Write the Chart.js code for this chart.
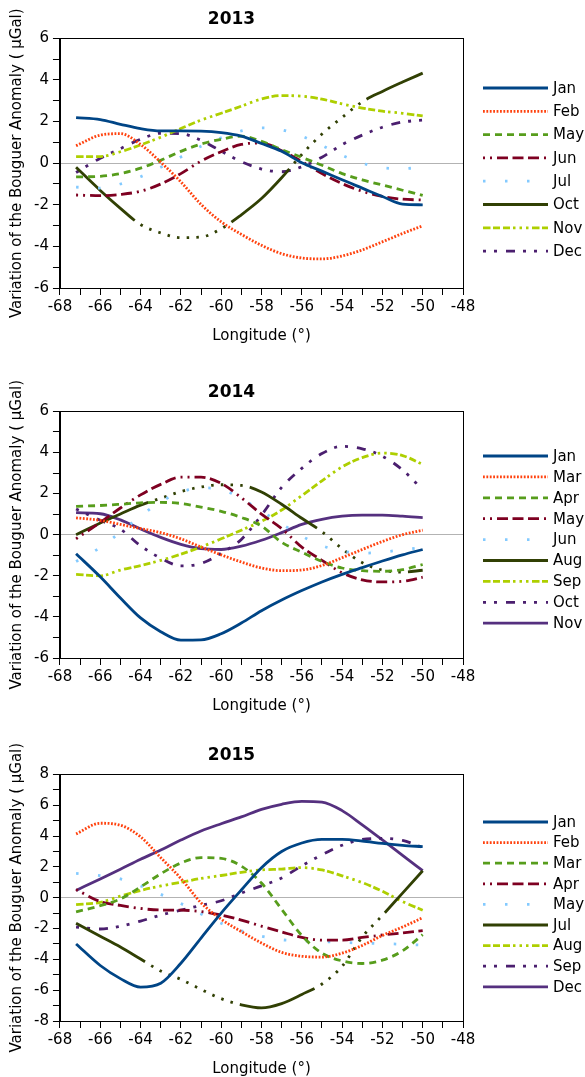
<!DOCTYPE html>
<html>
<head>
<meta charset="utf-8">
<script src="https://cdn.jsdelivr.net/npm/chart.js@4.4.0/dist/chart.umd.min.js"></script>
<style>
  html, body { margin: 0; padding: 0; background: #fff; }
  body { width: 585px; height: 1077px; position: relative; overflow: hidden; }
  .box { position: absolute; left: 0; width: 585px; }
  #box1 { top: 0; height: 345px; }
  #box2 { top: 373px; height: 342px; }
  #box3 { top: 736px; height: 342px; }
</style>
</head>
<body>
<div class="box" id="box1"><canvas id="chart1"></canvas></div>
<div class="box" id="box2"><canvas id="chart2"></canvas></div>
<div class="box" id="box3"><canvas id="chart3"></canvas></div>
<script>
const lon = [-67.2, -66, -65, -64, -63, -62, -61, -60, -59, -58, -57, -56, -55, -54, -53, -52, -51, -50];
const xBounds = [-68, -48];

// 2013
const months2013 = ['Jan', 'Feb', 'May', 'Jun', 'Jul', 'Oct', 'Nov', 'Dec'];
const yBounds2013 = [-6, 6];
const jan13 = [2.19, 2.1, 1.87, 1.66, 1.55, 1.55, 1.54, 1.47, 1.3, 0.95, 0.57, 0.02, -0.38, -0.8, -1.2, -1.6, -1.97, -2.0];
const feb13 = [0.84, 1.35, 1.42, 0.9, 0.05, -0.9, -1.98, -2.82, -3.42, -3.95, -4.35, -4.56, -4.6, -4.46, -4.17, -3.78, -3.38, -3.01];
const may13 = [-0.66, -0.63, -0.5, -0.24, 0.14, 0.57, 0.92, 1.15, 1.3, 1.05, 0.65, 0.28, -0.1, -0.5, -0.8, -1.05, -1.3, -1.55];
const jun13 = [-1.53, -1.56, -1.5, -1.35, -1.0, -0.5, 0.1, 0.55, 0.9, 0.97, 0.6, 0.08, -0.5, -0.98, -1.35, -1.6, -1.73, -1.77];
const jul13 = [-1.15, -1.2, -1.0, -0.65, -0.2, 0.3, 0.82, 1.22, 1.55, 1.7, 1.6, 1.3, 0.85, 0.38, 0.0, -0.22, -0.26, -0.2];
const oct13 = [-0.2, -1.31, -2.17, -2.95, -3.35, -3.58, -3.55, -3.15, -2.48, -1.7, -0.7, 0.42, 1.4, 2.2, 2.95, 3.45, 3.9, 4.33];
const nov13 = [0.32, 0.32, 0.55, 0.88, 1.25, 1.67, 2.07, 2.4, 2.74, 3.09, 3.25, 3.22, 3.08, 2.85, 2.65, 2.5, 2.4, 2.27];
const dec13 = [-0.45, 0.24, 0.7, 1.15, 1.44, 1.42, 1.1, 0.58, 0.07, -0.28, -0.41, -0.17, 0.29, 0.89, 1.35, 1.73, 1.98, 2.07];

// 2014
const months2014 = ['Jan', 'Mar', 'Apr', 'May', 'Jun', 'Aug', 'Sep', 'Oct', 'Nov'];
const yBounds2014 = [-6, 6];
const jan14 = [-0.93, -2.05, -3.08, -4.05, -4.72, -5.13, -5.12, -4.82, -4.3, -3.7, -3.18, -2.72, -2.3, -1.93, -1.6, -1.28, -0.98, -0.72];
const mar14 = [0.82, 0.7, 0.5, 0.3, 0.1, -0.2, -0.6, -0.98, -1.33, -1.62, -1.75, -1.72, -1.5, -1.12, -0.72, -0.33, 0.0, 0.22];
const apr14 = [1.38, 1.42, 1.48, 1.55, 1.57, 1.52, 1.34, 1.14, 0.84, 0.42, -0.37, -0.85, -1.3, -1.62, -1.75, -1.78, -1.7, -1.45];
const may14 = [-0.2, 0.6, 1.3, 1.94, 2.45, 2.8, 2.8, 2.5, 1.8, 1.0, 0.3, -0.6, -1.25, -1.85, -2.2, -2.3, -2.27, -2.07];
const jun14 = [-1.3, -0.62, 0.12, 0.9, 1.6, 2.07, 2.28, 2.2, 1.76, 1.15, 0.53, -0.07, -0.53, -0.8, -0.9, -0.85, -0.73, -0.62];
const aug14 = [0.0, 0.57, 1.01, 1.44, 1.77, 2.1, 2.32, 2.43, 2.4, 2.08, 1.48, 0.8, 0.15, -0.68, -1.36, -1.72, -1.82, -1.73];
const sep14 = [-1.93, -2.0, -1.72, -1.5, -1.25, -0.95, -0.6, -0.2, 0.22, 0.65, 1.2, 1.9, 2.62, 3.3, 3.75, 3.97, 3.85, 3.42];
const oct14 = [1.25, 0.7, 0.27, -0.54, -1.14, -1.52, -1.4, -0.9, -0.23, 0.95, 2.3, 3.23, 3.95, 4.3, 4.18, 3.82, 3.15, 2.19];
const nov14 = [1.07, 1.02, 0.72, 0.28, -0.13, -0.47, -0.68, -0.72, -0.56, -0.27, 0.1, 0.5, 0.75, 0.9, 0.95, 0.95, 0.9, 0.83];

// 2015
const months2015 = ['Jan', 'Feb', 'Mar', 'Apr', 'May', 'Jul', 'Aug', 'Sep', 'Dec'];
const yBounds2015 = [-8, 8];
const jan15 = [-3.0, -4.4, -5.25, -5.8, -5.55, -4.25, -2.62, -1.0, 0.5, 1.95, 3.0, 3.55, 3.78, 3.78, 3.68, 3.52, 3.4, 3.31];
const feb15 = [4.14, 4.83, 4.7, 3.95, 2.6, 1.25, -0.33, -1.4, -2.2, -2.94, -3.55, -3.8, -3.85, -3.6, -3.1, -2.45, -1.9, -1.3];
const mar15 = [-0.92, -0.52, -0.08, 0.7, 1.55, 2.25, 2.6, 2.55, 2.05, 0.95, -0.75, -2.45, -3.6, -4.1, -4.27, -4.05, -3.45, -2.4];
const apr15 = [0.53, -0.25, -0.5, -0.7, -0.8, -0.81, -0.9, -1.13, -1.45, -1.85, -2.22, -2.58, -2.75, -2.75, -2.58, -2.42, -2.28, -2.13];
const may15 = [1.58, 1.43, 1.22, 0.77, 0.22, -0.38, -1.05, -1.66, -2.15, -2.5, -2.73, -2.8, -2.85, -2.9, -2.95, -2.98, -3.02, -3.08];
const jul15 = [-1.66, -2.5, -3.2, -3.98, -4.76, -5.3, -5.95, -6.55, -6.95, -7.15, -6.87, -6.28, -5.6, -4.45, -2.55, -1.15, 0.3, 1.75];
const aug15 = [-0.45, -0.3, 0.1, 0.47, 0.76, 1.0, 1.25, 1.44, 1.65, 1.8, 1.86, 1.95, 1.8, 1.42, 0.98, 0.42, -0.25, -0.81];
const sep15 = [-1.9, -2.03, -1.85, -1.52, -1.13, -0.81, -0.5, -0.2, 0.3, 0.77, 1.28, 2.07, 2.78, 3.4, 3.78, 3.85, 3.72, 3.25];
const dec15 = [0.47, 1.22, 1.85, 2.49, 3.1, 3.74, 4.33, 4.8, 5.24, 5.73, 6.06, 6.25, 6.2, 5.65, 4.73, 3.75, 2.74, 1.75];

// line looks, in series order (LibreOffice-like palette)
const dotRun = [79, 7.2, 2.5, 7.2, 2.5, 7.2, 2.5, 7.2, 2.5, 7.2, 2.5, 7.2, 2.5, 7.2, 2.5, 7.2, 2.5, 7.2, 2.5, 7.2, 2.5, 7.2];
const looks = [
  { color: '#004586', dash: [] },
  { color: '#ff420e', dash: [1.8, 1.6] },
  { color: '#579d1c', dash: [7, 5] },
  { color: '#7e0021', dash: [2, 5, 2, 5, 11, 4.5, 11, 4.5, 11, 5] },
  { color: '#83caff', dash: [2.5, 19.5] },
  { color: '#314004', dash: dotRun },
  { color: '#aecf00', dash: [7.5, 2.5, 7, 3, 7, 3, 2.5, 4, 2.5, 4, 2.5, 3.5] },
  { color: '#4b1f6f', dash: [3, 8, 3, 9, 9, 8] },
  { color: '#55307f', dash: [] }
];

Chart.defaults.font.family = "'DejaVu Sans', sans-serif";
Chart.defaults.font.size = 15;
Chart.defaults.color = '#000';

// box around the plot area
const frame = {
  id: 'frame',
  afterDatasetsDraw(chart) {
    const { ctx, chartArea: a } = chart;
    ctx.save();
    ctx.strokeStyle = '#000';
    ctx.lineWidth = 1;
    ctx.strokeRect(Math.round(a.left) + 0.5, Math.round(a.top) + 0.5, Math.round(a.width), Math.round(a.height));
    ctx.restore();
  }
};

// legend to the right, drawn with each dataset's own dash pattern
const sideLegend = {
  id: 'sideLegend',
  afterDraw(chart, args, opts) {
    const ctx = chart.ctx;
    ctx.save();
    chart.data.datasets.forEach((ds, i) => {
      const y = opts.top + i * opts.step;
      ctx.beginPath();
      ctx.setLineDash(ds.borderDash);
      ctx.lineWidth = ds.borderWidth;
      ctx.strokeStyle = ds.borderColor;
      ctx.moveTo(opts.x, y);
      ctx.lineTo(opts.x + 65, y);
      ctx.stroke();
      ctx.setLineDash([]);
      ctx.fillStyle = '#000';
      ctx.font = "15px 'DejaVu Sans'";
      ctx.textBaseline = 'middle';
      ctx.fillText(ds.label, opts.x + 70, y + 1);
    });
    ctx.restore();
  }
};

const evenOnly = v => (v % 2 === 0 ? v : '');

function makeChart(id, title, months, series, yBounds, legendPos) {
  return new Chart(document.getElementById(id), {
    type: 'line',
    data: {
      datasets: months.map((m, i) => ({
        label: m,
        data: lon.map((x, j) => ({ x: x, y: series[i][j] })),
        borderColor: looks[i].color,
        borderDash: looks[i].dash,
        borderWidth: 2.8,
        pointRadius: 0,
        fill: false,
        cubicInterpolationMode: 'monotone'
      }))
    },
    options: {
      responsive: true,
      maintainAspectRatio: false,
      animation: false,
      layout: { padding: { left: 0, right: 122, top: 0, bottom: 0 } },
      plugins: {
        legend: { display: false },
        tooltip: { enabled: false },
        title: {
          display: true,
          text: title,
          color: '#000',
          font: { size: 17, weight: 'bold' },
          padding: { top: 9, bottom: 9 }
        },
        sideLegend: legendPos
      },
      scales: {
        x: {
          type: 'linear',
          min: xBounds[0],
          max: xBounds[1],
          ticks: { stepSize: 1, autoSkip: false, maxRotation: 0, padding: 3, color: '#000', callback: evenOnly },
          grid: { drawOnChartArea: false, tickLength: 7, tickColor: '#000' },
          border: { color: '#000' },
          title: { display: true, text: 'Longitude (°)', color: '#000', padding: { top: 8, bottom: 0 } }
        },
        y: {
          min: yBounds[0],
          max: yBounds[1],
          ticks: { stepSize: 1, autoSkip: false, padding: 4, color: '#000', callback: evenOnly },
          grid: {
            tickLength: 7,
            tickColor: '#000',
            color: c => (c.tick && c.tick.value === 0 ? '#b3b3b3' : 'rgba(0,0,0,0)')
          },
          border: { color: '#000' },
          title: {
            display: true,
            text: 'Variation of the Bouguer Anomaly ( µGal)',
            color: '#000',
            padding: { top: 8, bottom: 4 }
          }
        }
      }
    },
    plugins: [frame, sideLegend]
  });
}

makeChart('chart1', '2013', months2013,
  [jan13, feb13, may13, jun13, jul13, oct13, nov13, dec13],
  yBounds2013, { x: 483, top: 88, step: 23.3 });

makeChart('chart2', '2014', months2014,
  [jan14, mar14, apr14, may14, jun14, aug14, sep14, oct14, nov14],
  yBounds2014, { x: 483, top: 83, step: 20.9 });

makeChart('chart3', '2015', months2015,
  [jan15, feb15, mar15, apr15, may15, jul15, aug15, sep15, dec15],
  yBounds2015, { x: 483, top: 86, step: 20.6 });
</script>
</body>
</html>
